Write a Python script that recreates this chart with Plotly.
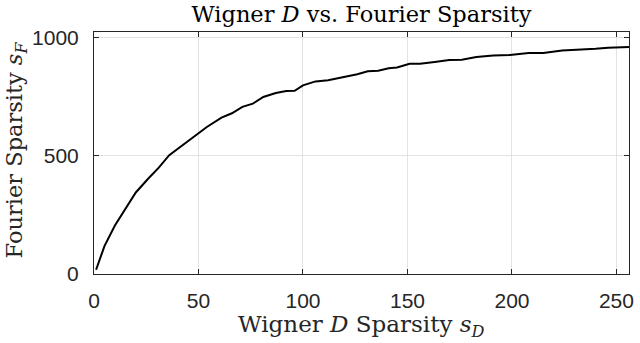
import plotly.graph_objects as go

# Data
wigner_sparsity = [1, 5, 10, 14, 20, 26, 31, 36, 44, 50, 54, 61, 66, 71, 76, 81, 87, 92, 96,
                   100, 106, 112, 117, 122, 126, 131, 136, 141, 145, 151, 156, 163, 170, 176,
                   183, 191, 199, 208, 215, 224, 234, 240, 246, 256]
fourier_sparsity = [18, 118, 205, 263, 345, 404, 450, 503, 557, 595, 622, 662, 680, 707, 721,
                    749, 766, 774, 775, 798, 815, 820, 829, 841, 845, 858, 860, 871, 874, 890,
                    890, 897, 905, 907, 918, 925, 927, 935, 935, 946, 949, 953, 957, 961]

x_ticks = [0, 50, 100, 150, 200, 250]
y_ticks = [0, 500, 1000]

serif = "DejaVu Serif, serif"
sans = "Liberation Sans, Arial, Helvetica, sans-serif"
axis_color = "#262626"

W, H = 640, 343
ML, MR, MT, MB = 93.5, 6.5, 31.7, 69
PW = W - ML - MR
PH = H - MT - MB

fig = go.Figure()
fig.add_trace(go.Scatter(
    x=wigner_sparsity, y=fourier_sparsity, mode="lines",
    line=dict(color="black", width=2), showlegend=False, hoverinfo="skip",
))

common_axis = dict(
    showline=True, linecolor=axis_color, linewidth=1, mirror="allticks",
    ticks="inside", ticklen=5, tickcolor=axis_color, tickwidth=1,
    showgrid=True, gridcolor="#e3e3e3", gridwidth=1,
    zeroline=False, ticklabeloverflow="allow",
    tickfont=dict(family=sans, size=21, color=axis_color),
)

fig.update_layout(
    width=W, height=H,
    margin=dict(l=ML, r=MR, t=MT, b=MB),
    paper_bgcolor="white", plot_bgcolor="white",
    title=dict(
        text="Wigner <i>D</i> vs. Fourier Sparsity",
        x=0.5, xanchor="center", xref="paper",
        y=1 - 14 / H, yanchor="middle", yref="container",
        font=dict(family=serif, size=22.5, color="black"),
    ),
    xaxis=dict(
        range=[0, 256], tickvals=x_ticks, ticktext=[str(v) for v in x_ticks],
        ticklabelstandoff=8,
        **common_axis,
    ),
    yaxis=dict(
        range=[0, 1024], tickvals=y_ticks, ticktext=[str(v) for v in y_ticks],
        ticklabelstandoff=10,
        **common_axis,
    ),
    annotations=[
        dict(text="Wigner <i>D</i> Sparsity <i>s</i><sub><i>D</i></sub>",
             xref="paper", yref="paper", x=0.5, y=-(326 - (MT + PH)) / PH,
             xanchor="center", yanchor="middle", showarrow=False,
             font=dict(family=serif, size=23, color=axis_color)),
        dict(text="Fourier Sparsity <i>s</i><sub><i>F</i></sub>",
             xref="paper", yref="paper", x=(15 - ML) / PW, y=(274 - 150) / PH,
             xanchor="center", yanchor="middle", textangle=-90, showarrow=False,
             font=dict(family=serif, size=22.5, color=axis_color)),
    ],
)

fig.write_html("out.html", config={"displayModeBar": False},
               post_script="document.body.style.margin='0';")
